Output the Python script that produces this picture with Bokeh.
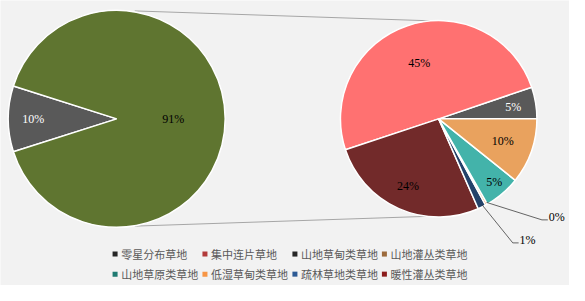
import math
from bokeh.plotting import figure
from bokeh.models import Range1d
from bokeh.core.properties import value
from bokeh.embed import file_html
from bokeh.resources import INLINE

# ---------------- data ----------------
legend_labels = ["零星分布草地", "集中连片草地", "山地草甸类草地", "山地灌丛类草地",
                 "山地草原类草地", "低湿草甸类草地", "疏林草地类草地", "暖性灌丛类草地"]
legend_colors = ["#262626", "#b23b3b", "#262626", "#9c6b3c",
                 "#1f7a72", "#f79646", "#2c5a94", "#8b1c1c"]

main_values = [9.8, 90.2]
main_labels = ["10%", "91%"]
main_colors = ["#595959", "#5f7530"]
main_label_colors = ["white", "black"]

sub_values = [4.7, 45.0, 23.9, 1.2, 0.3, 5.4, 9.7]
sub_labels = ["5%", "45%", "24%", "1%", "0%", "5%", "10%"]
sub_colors = ["#595959", "#ff7171", "#722a2a", "#24426a", "#f79646", "#43b3aa", "#e9a25e"]
sub_label_colors = ["white", "black", "black", "black", "black", "black", "black"]

# ---------------- layout ----------------
H = 301
def Y(ry):
    return H - ry

W_FIG, H_FIG = 569, 285
BG = "#f2f2f2"

p = figure(width=W_FIG, height=H_FIG, output_backend="svg", toolbar_location=None,
           x_range=Range1d(0, 585), y_range=Range1d(0, 301),
           min_border=0, background_fill_color=BG, border_fill_color=BG)
p.axis.visible = False
p.grid.visible = False
p.outline_line_color = None

LC = (119.5, Y(125)); LR = 111.5
RC = (450.5, Y(125)); RR = 101.0

# connector lines
p.line([138, 443], [Y(11), Y(21.5)], line_color="#a6a6a6", line_width=1)
p.line([138, 438], [Y(238.3), Y(228)], line_color="#a6a6a6", line_width=1)

def slices(values, start):
    tot = sum(values)
    starts, ends, mids = [], [], []
    a = start
    for v in values:
        b = a + v / tot * 2 * math.pi
        starts.append(a); ends.append(b); mids.append((a + b) / 2)
        a = b
    return starts, ends, mids

# main pie (grey slice centred on the left)
ms, me, mm = slices(main_values, math.pi - main_values[0] / sum(main_values) * math.pi)
p.wedge(x=LC[0], y=LC[1], radius=LR, start_angle=ms, end_angle=me,
        fill_color=main_colors, line_color="white", line_width=1.5)
main_r = [0.77, 0.52]
p.text(x=[LC[0] + f * LR * math.cos(a) for f, a in zip(main_r, mm)],
       y=[LC[1] + f * LR * math.sin(a) for f, a in zip(main_r, mm)],
       text=main_labels, text_color=main_label_colors,
       text_font=value("Liberation Serif"), text_font_size="12px",
       text_align="center", text_baseline="middle")

# secondary pie
ss, se, sm = slices(sub_values, 0.0)
p.wedge(x=RC[0], y=RC[1], radius=RR, start_angle=ss, end_angle=se,
        fill_color=sub_colors, line_color="white", line_width=1.5)

inner_r = {0: 0.77, 1: 0.62, 2: 0.77, 5: 0.87, 6: 0.69}
ix = list(inner_r)
p.text(x=[RC[0] + inner_r[i] * RR * math.cos(sm[i]) for i in ix],
       y=[RC[1] + inner_r[i] * RR * math.sin(sm[i]) for i in ix],
       text=[sub_labels[i] for i in ix], text_color=[sub_label_colors[i] for i in ix],
       text_font=value("Liberation Serif"), text_font_size="12px",
       text_align="center", text_baseline="middle")

# outside labels with leader lines (elbow offsets relative to pie centre)
elbows = {4: (106.2, -106.7), 3: (76.2, -131.0)}
for i, (ex, ey) in elbows.items():
    x0 = RC[0] + RR * math.cos(sm[i]); y0 = RC[1] + RR * math.sin(sm[i])
    x1 = RC[0] + ex; y1 = RC[1] + ey
    p.line([x0, x1, x1 + 6], [y0, y1, y1], line_color="#404040", line_width=0.8)
    p.text(x=[x1 + 7], y=[y1 + 3], text=[sub_labels[i]], text_color=sub_label_colors[i],
           text_font=value("Liberation Serif"), text_font_size="12px",
           text_align="left", text_baseline="middle")

# legend (2 rows x 4 columns)
col_x = [117.8, 210.2, 302.7, 394.7]
row_y = [Y(267.8), Y(289)]
lx = [col_x[k % 4] for k in range(len(legend_labels))]
ly = [row_y[k // 4] for k in range(len(legend_labels))]
p.scatter(x=lx, y=ly, marker="square", size=5, fill_color=legend_colors, line_color=None)
p.text(x=[v + 6.3 for v in lx], y=ly, text=legend_labels, text_color="#595959",
       text_font=value("Noto Sans CJK SC"), text_font_size="11px",
       text_align="left", text_baseline="middle")

open("out.html", "w").write(file_html(p, INLINE))
